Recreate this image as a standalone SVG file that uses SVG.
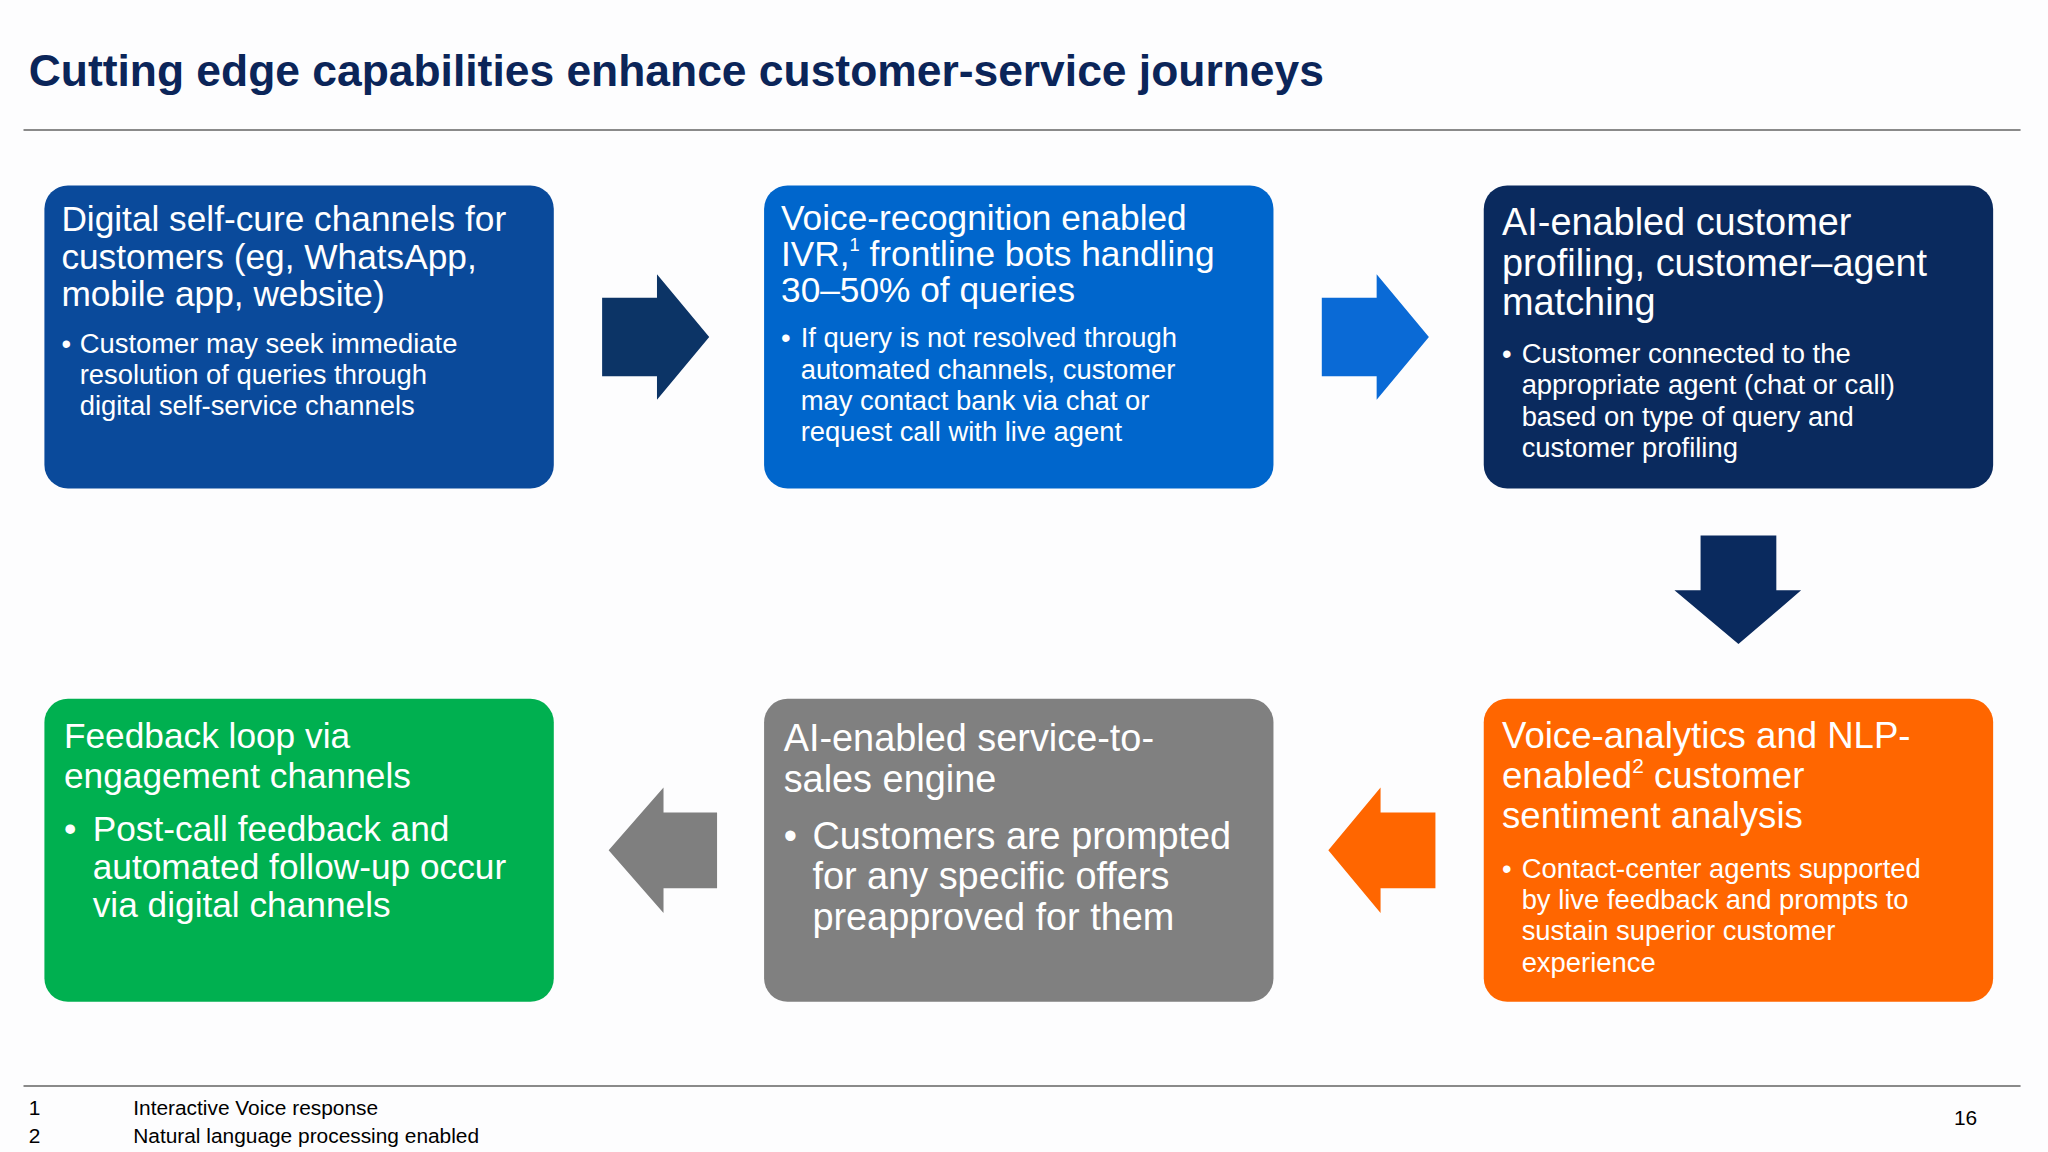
<svg xmlns="http://www.w3.org/2000/svg" width="2048" height="1152" viewBox="0 0 2048 1152">
<style>
text{font-family:"Liberation Sans",Arial,sans-serif;fill:#fff}
.h{font-size:27px}.b{font-size:21px}.g{font-size:27px}
.ft{font-size:16px;fill:#000}
</style>
<rect width="2048" height="1152" fill="#fdfdfe"/>
<g transform="scale(1.30612)">
<text x="22" y="66" style="font-size:34px;font-weight:bold;fill:#0b2559">Cutting edge capabilities enhance customer-service journeys</text>
<line x1="18" y1="99.5" x2="1547" y2="99.5" stroke="#8a8a8a" stroke-width="1.5"/>
<g id="connectors">
<polygon points="461,228 503,228 503,210 543,258 503,306 503,288 461,288" fill="#0c3466"/>
<polygon points="1012,228 1054,228 1054,210 1094,258 1054,306 1054,288 1012,288" fill="#0a6ad6"/>
<polygon points="1302,410 1360,410 1360,452 1379,452 1331,493 1282,452 1302,452" fill="#0a2a5e"/>
<polygon points="1099,622 1057,622 1057,603 1017,651 1057,699 1057,680 1099,680" fill="#ff6600"/>
<polygon points="549,622 508,622 508,603 466,651 508,699 508,680 549,680" fill="#7f7f7f"/>
</g>
<g id="n1"><rect x="34" y="142" width="390" height="232" rx="18" fill="#0a4a9b"/>
<text class="h" x="47" y="177">Digital self-cure channels for</text><text class="h" x="47" y="206">customers (eg, WhatsApp,</text><text class="h" x="47" y="234">mobile app, website)</text>
<text class="b" x="47" y="270">•</text><text class="b" x="61" y="270">Customer may seek immediate</text><text class="b" x="61" y="294">resolution of queries through</text><text class="b" x="61" y="318">digital self-service channels</text></g>
<g id="n2"><rect x="585" y="142" width="390" height="232" rx="18" fill="#0066cc"/>
<text class="h" x="598" y="176">Voice-recognition enabled</text><text class="h" x="598" y="204">IVR,<tspan font-size="14" dy="-12">1</tspan><tspan dy="12"> frontline bots handling</tspan></text><text class="h" x="598" y="231">30–50% of queries</text>
<text class="b" x="598" y="266">•</text><text class="b" x="613" y="266">If query is not resolved through</text><text class="b" x="613" y="290">automated channels, customer</text><text class="b" x="613" y="314">may contact bank via chat or</text><text class="b" x="613" y="338">request call with live agent</text></g>
<g id="n3"><rect x="1136" y="142" width="390" height="232" rx="18" fill="#0a2a5e"/>
<text class="h" x="1150" y="180" font-size="29" style="font-size:29px">AI-enabled customer</text><text x="1150" y="211" style="font-size:29px">profiling, customer–agent</text><text x="1150" y="241" style="font-size:29px">matching</text>
<text class="b" x="1150" y="278">•</text><text class="b" x="1165" y="278">Customer connected to the</text><text class="b" x="1165" y="302">appropriate agent (chat or call)</text><text class="b" x="1165" y="326">based on type of query and</text><text class="b" x="1165" y="350">customer profiling</text></g>
<g id="n4"><rect x="1136" y="535" width="390" height="232" rx="18" fill="#ff6600"/>
<text x="1150" y="573" style="font-size:28px">Voice-analytics and NLP-</text><text x="1150" y="603" style="font-size:28px">enabled<tspan font-size="16" dy="-11">2</tspan><tspan dy="11"> customer</tspan></text><text x="1150" y="634" style="font-size:28px">sentiment analysis</text>
<text class="b" x="1150" y="672">•</text><text class="b" x="1165" y="672">Contact-center agents supported</text><text class="b" x="1165" y="696">by live feedback and prompts to</text><text class="b" x="1165" y="720">sustain superior customer</text><text class="b" x="1165" y="744">experience</text></g>
<g id="n5"><rect x="585" y="535" width="390" height="232" rx="18" fill="#808080"/>
<text x="600" y="575" style="font-size:29px">AI-enabled service-to-</text><text x="600" y="606" style="font-size:29px">sales engine</text>
<text x="600" y="650" style="font-size:29px">•</text><text x="622" y="650" style="font-size:29px">Customers are prompted</text><text x="622" y="681" style="font-size:29px">for any specific offers</text><text x="622" y="712" style="font-size:29px">preapproved for them</text></g>
<g id="n6"><rect x="34" y="535" width="390" height="232" rx="18" fill="#00b050"/>
<text class="g" x="49" y="573">Feedback loop via</text><text class="g" x="49" y="603">engagement channels</text>
<text class="g" x="49" y="644">•</text><text class="g" x="71" y="644">Post-call feedback and</text><text class="g" x="71" y="673">automated follow-up occur</text><text class="g" x="71" y="702">via digital channels</text></g>
<line x1="18" y1="831.5" x2="1547" y2="831.5" stroke="#8a8a8a" stroke-width="1.5"/>
<text class="ft" x="22" y="854">1</text><text class="ft" x="102" y="854">Interactive Voice response</text>
<text class="ft" x="22" y="875">2</text><text class="ft" x="102" y="875">Natural language processing enabled</text>
<text class="ft" x="1496" y="861">16</text>
</g>
</svg>
